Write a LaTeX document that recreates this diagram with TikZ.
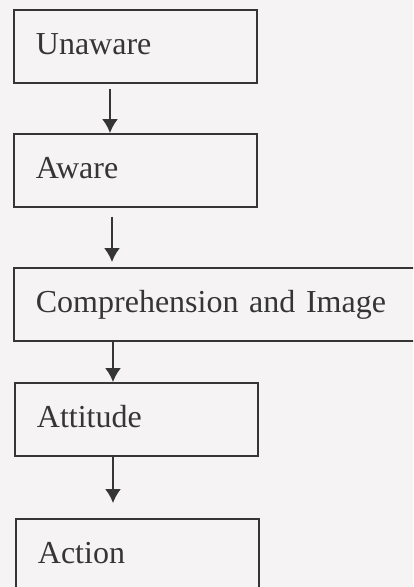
\documentclass[tikz,border=0pt]{standalone}
\usepackage{fontspec}
\setmainfont{Liberation Serif}
\usetikzlibrary{arrows.meta}
\definecolor{paper}{HTML}{F5F3F3}
\definecolor{ink}{HTML}{353535}
\begin{document}
\begin{tikzpicture}[x=1pt,y=-1pt,
  stage/.style={draw=ink, line width=1.8pt, rectangle, anchor=north west,
    minimum height=73pt, inner xsep=22pt, inner ysep=0pt,
    text width=#1, align=left, text=ink,
    font=\fontsize{32}{38}\selectfont, text height=26pt, text depth=9pt},
  stage/.default=199pt,
  flow/.style={draw=ink, line width=1.8pt, -{Latex[length=14pt,width=16pt]}}]
  \useasboundingbox (0,0) rectangle (413,587);
  \fill[paper] (0,0) rectangle (413,587);
  \clip (0,0) rectangle (413,587);

  \node[stage] (unaware) at (13,9)   {Unaware};
  \node[stage] (aware)   at (13,133) {Aware};
  \node[stage=383pt] (image) at (13,267) {Comprehension and Image};
  \node[stage] (attitude) at (14,382) {Attitude};
  \node[stage] (action)   at (15,518) {Action};

  \draw[flow] ([xshift=97pt,yshift=-5pt]unaware.south west) -- ([xshift=97pt]aware.north west);
  \draw[flow] ([xshift=99pt,yshift=-9pt]aware.south west) -- ([xshift=99pt,yshift=5pt]image.north west);
  \draw[flow] ([xshift=100pt]image.south west) -- ([xshift=99pt]attitude.north west);
  \draw[flow] ([xshift=99pt]attitude.south west) -- ([xshift=98pt,yshift=15pt]action.north west);
\end{tikzpicture}
\end{document}
